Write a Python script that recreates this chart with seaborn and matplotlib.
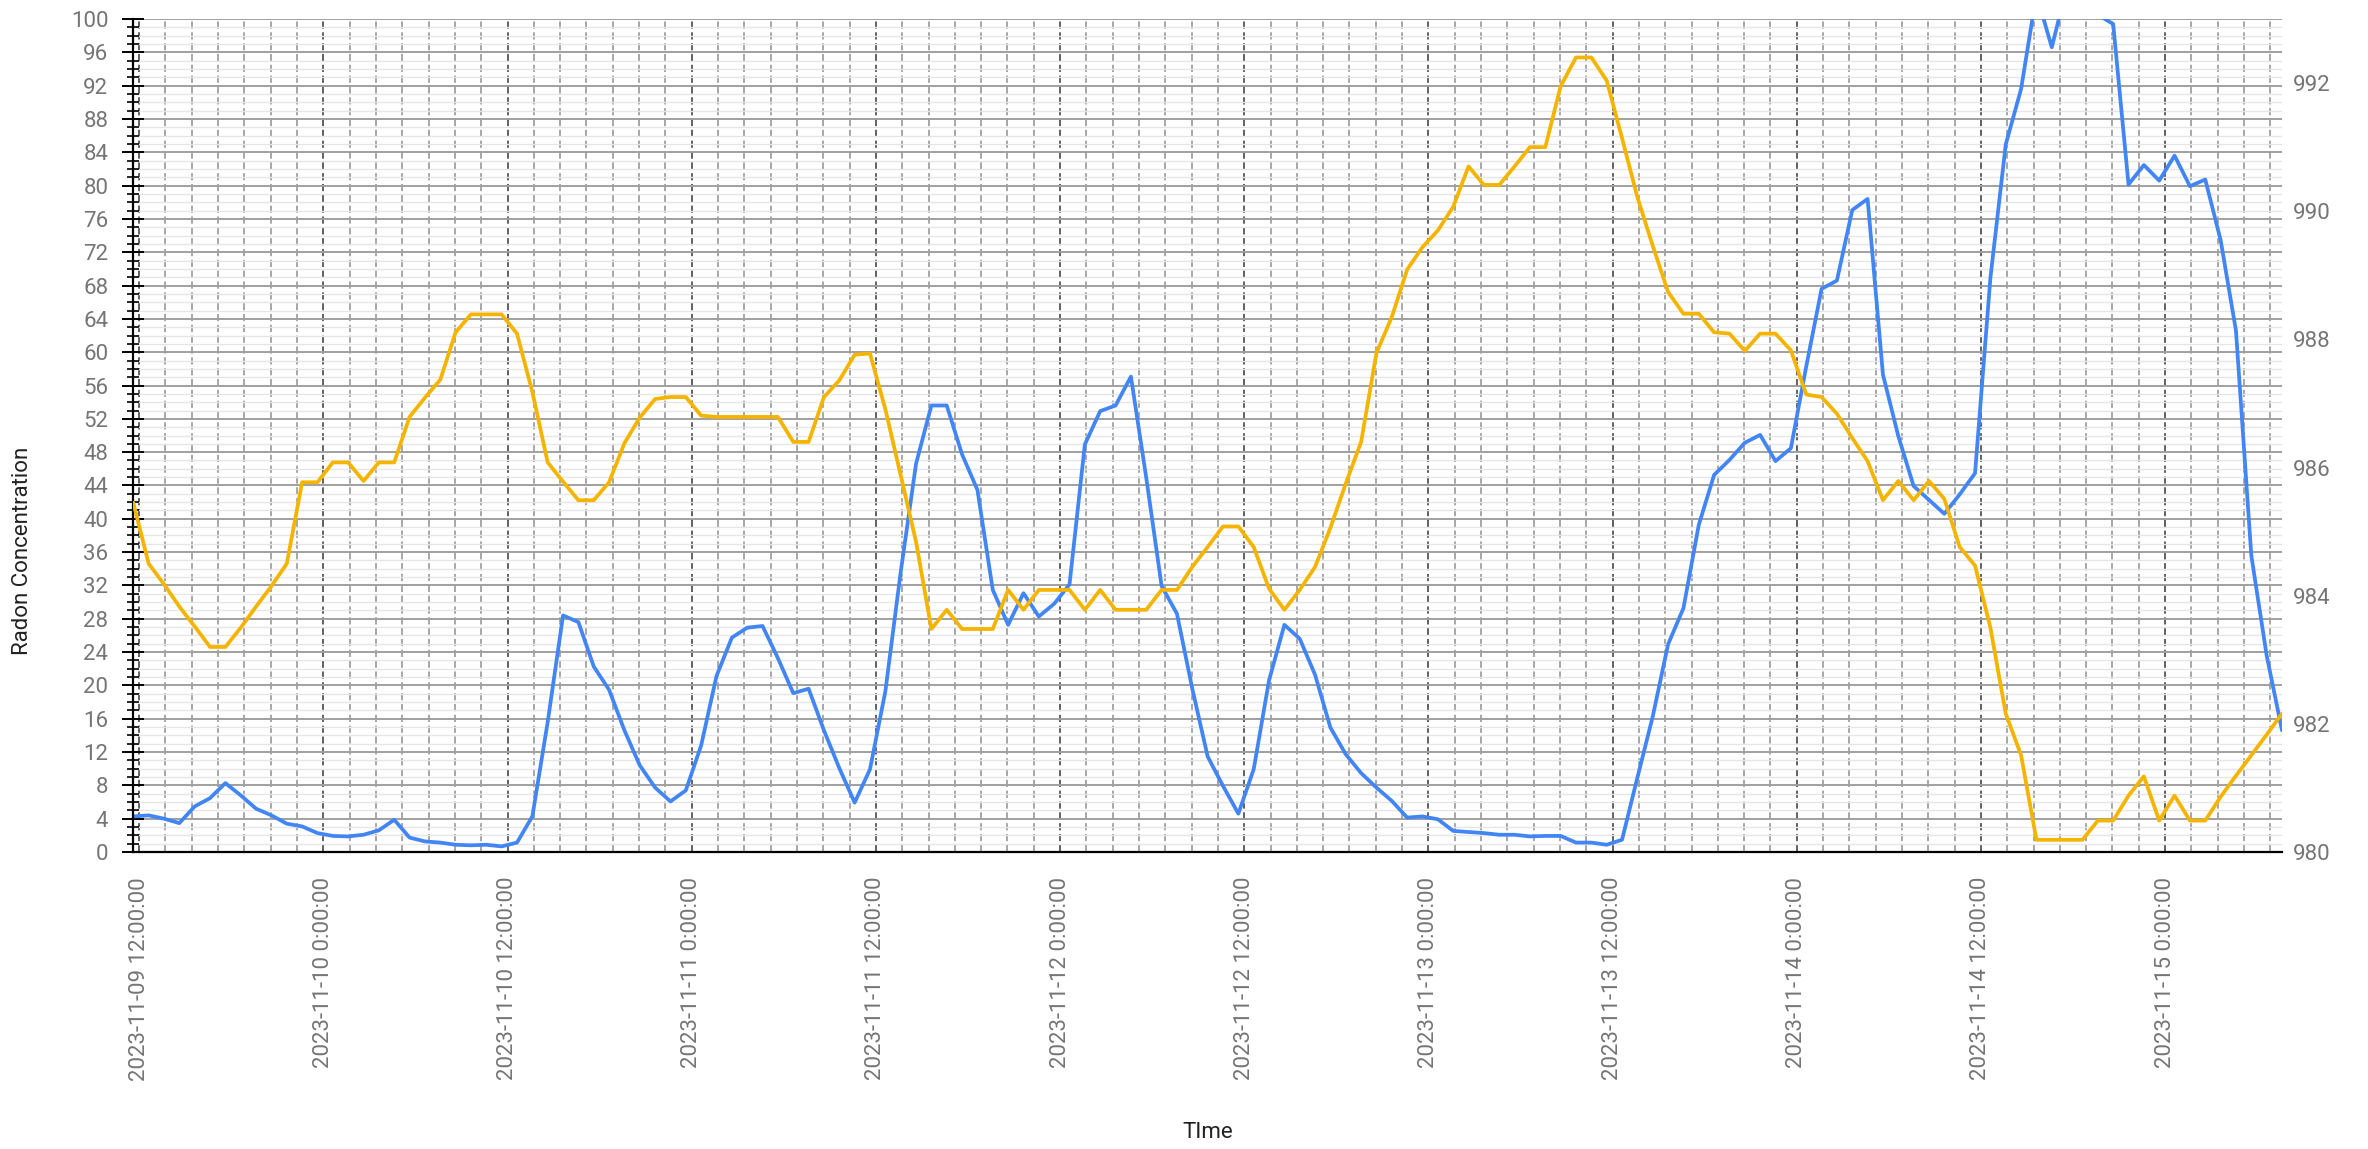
"""Radon concentration vs barometric pressure, hourly readings."""

import matplotlib
matplotlib.use("Agg")
import matplotlib.pyplot as plt
import matplotlib.dates as mdates
from matplotlib.ticker import MultipleLocator, FuncFormatter, NullFormatter
import numpy as np
import pandas as pd
import seaborn as sns

sns.set_theme(style="white")
plt.rcParams["font.family"] = ["Roboto", "DejaVu Sans"]

# hourly timestamps (first reading 2023-11-09 11:37)
times = pd.date_range("2023-11-09 11:37", periods=141, freq="h")

radon = [
    4.27, 4.4, 4.0, 3.47, 5.47, 6.47, 8.27, 6.8, 5.2, 4.4,
    3.4, 3.07, 2.27, 1.93, 1.87, 2.07, 2.6, 3.87, 1.73, 1.27,
    1.13, 0.87, 0.8, 0.87, 0.67, 1.13, 4.27, 15.6, 28.4,
    27.6, 22.27, 19.47, 14.6, 10.4, 7.73, 6.07, 7.4, 12.8, 21.13,
    25.73, 26.93, 27.13, 23.27, 19.07, 19.6, 14.6, 10.07, 5.93, 9.93,
    19.27, 33.6, 46.6, 53.6, 53.6, 47.73, 43.47, 31.47,
    27.27, 31.07, 28.27, 29.8, 32.13, 48.93, 52.93, 53.6, 57.07, 44.93,
    31.93, 28.6, 19.6, 11.47, 7.93, 4.6, 9.93, 20.6, 27.27, 25.6,
    21.27, 14.93, 11.73, 9.47, 7.73, 6.13, 4.13, 4.27,
    3.93, 2.53, 2.4, 2.27, 2.07, 2.07, 1.87, 1.93, 1.93, 1.13,
    1.13, 0.87, 1.47, 8.93, 16.27, 24.93, 29.27, 39.27, 45.27, 47.07,
    49.13, 50.07, 46.93, 48.47, 58.27, 67.6, 68.6, 77.07,
    78.4, 57.3, 49.93, 43.93, 42.27, 40.6, 42.93, 45.47, 68.9, 84.93,
    91.6, 103.0, 96.6, 104.0, 102.0, 100.5, 99.4, 80.13, 82.47, 80.6,
    83.6, 79.93, 80.73, 73.47, 62.6, 35.6, 23.6, 14.6,
]

pressure = [
    985.45, 984.50, 984.18, 983.83, 983.52, 983.20, 983.20, 983.50, 983.83, 984.15,
    984.50, 985.77, 985.77, 986.08, 986.08, 985.79, 986.08, 986.08, 986.79, 987.09,
    987.37, 988.11, 988.39, 988.39, 988.39, 988.09, 987.18, 986.08, 985.78,
    985.49, 985.49, 985.77, 986.38, 986.78, 987.07, 987.10, 987.10, 986.81, 986.79,
    986.79, 986.79, 986.79, 986.79, 986.40, 986.40, 987.10, 987.36, 987.76, 987.78,
    986.91, 985.88, 984.84, 983.48, 983.78, 983.48, 983.48, 983.48,
    984.09, 983.78, 984.09, 984.09, 984.09, 983.78, 984.09, 983.78, 983.78, 983.78,
    984.09, 984.09, 984.45, 984.76, 985.08, 985.08, 984.76, 984.11, 983.78, 984.09,
    984.45, 985.06, 985.75, 986.40, 987.79, 988.35, 989.09, 989.44,
    989.70, 990.07, 990.70, 990.41, 990.41, 990.70, 991.00, 991.00, 991.95, 992.40,
    992.40, 992.04, 991.14, 990.22, 989.46, 988.74, 988.40, 988.40, 988.11, 988.09,
    987.82, 988.09, 988.09, 987.83, 987.14, 987.10, 986.84, 986.46,
    986.10, 985.49, 985.79, 985.49, 985.79, 985.51, 984.76, 984.47, 983.50, 982.16,
    981.51, 980.19, 980.19, 980.19, 980.19, 980.49, 980.49, 980.88, 981.18, 980.49,
    980.88, 980.49, 980.49, 980.86, 981.19, 981.51, 981.83, 982.16,
]

left_ticks = list(range(0, 101, 4))
right_ticks = list(range(980, 993, 2))

BLUE = "#4285F4"
YELLOW = "#F4B400"
TICK_GREY = "#757575"

W, H = 2368, 1149
fig = plt.figure(figsize=(W / 100, H / 100), dpi=100)
ax = fig.add_axes([133.3 / W, 1 - 852 / H, (2282 - 133.3) / W, (852 - 19) / H])

sns.lineplot(x=times, y=radon, ax=ax, color=BLUE, linewidth=2.7)
ax.set_xlim(times[0], times[-1])
ax.set_ylim(0, 100)
ax.set_xlabel("")
ax.set_ylabel("")

# y axis: major every 4, minor every 1
ax.set_yticks(left_ticks)
ax.yaxis.set_minor_locator(MultipleLocator(1))
ax.grid(which="major", axis="y", color="#a0a0a0", linewidth=1.4)
ax.grid(which="minor", axis="y", color="#e6e6e6", linewidth=1.0)

# x axis: major at 0h / 12h, minor gridlines every 12/7 h
ax.xaxis.set_major_locator(mdates.HourLocator(byhour=[0, 12]))
ax.xaxis.set_minor_locator(MultipleLocator(1 / 14))
ax.xaxis.set_minor_formatter(NullFormatter())


def _fmt(v, pos):
    d = mdates.num2date(v)
    return f"{d:%Y-%m-%d} {d.hour}:{d:%M:%S}"


ax.xaxis.set_major_formatter(FuncFormatter(_fmt))
ax.grid(which="major", axis="x", color="#555555", linewidth=1.3, linestyle=(0, (4, 2)))
ax.grid(which="minor", axis="x", color="#a0a0a0", linewidth=1.3, linestyle=(0, (4, 2)))
ax.set_axisbelow(True)

ax.tick_params(axis="x", which="major", direction="inout", length=16, width=1.4,
               color="black", labelsize=16, labelcolor=TICK_GREY, pad=10,
               labelrotation=90)
ax.tick_params(axis="x", which="minor", length=0)
ax.tick_params(axis="y", which="major", direction="inout", length=16, width=1.4,
               color="black", labelsize=16, labelcolor=TICK_GREY, pad=10, left=True)
ax.tick_params(axis="y", which="minor", direction="inout", length=9, width=1.2,
               color="black", left=True)

for side in ["top", "right"]:
    ax.spines[side].set_visible(False)
for side in ["left", "bottom"]:
    ax.spines[side].set_color("black")
    ax.spines[side].set_linewidth(1.6)

# right axis: pressure
ax2 = ax.twinx()
sns.lineplot(x=times, y=pressure, ax=ax2, color=YELLOW, linewidth=2.7)
ax2.set_ylim(980, 993)
ax2.set_yticks(right_ticks)
ax2.set_ylabel("")
ax2.tick_params(axis="y", length=0, labelsize=16, labelcolor=TICK_GREY, pad=8)
for s in ax2.spines.values():
    s.set_visible(False)
ax2.grid(False)

fig.text(23 / W, 1 - 551 / H, "Radon Concentration", rotation=90, ha="center",
         va="center", fontsize=16, color="#222222")
fig.text(1208 / W, 1 - 1133 / H, "TIme", ha="center", va="center",
         fontsize=16, color="#222222")

fig.savefig("out.png", dpi=100)
